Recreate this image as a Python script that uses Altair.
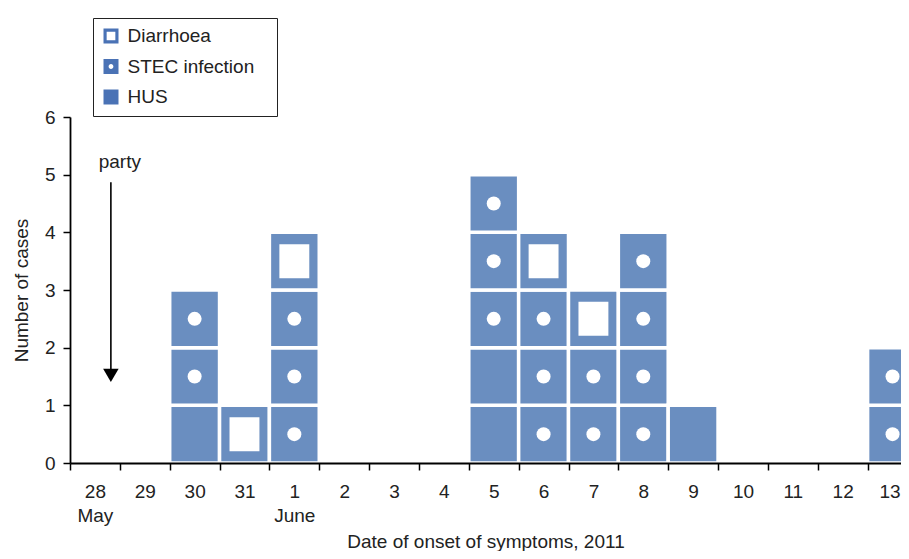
import altair as alt
import pandas as pd

# ---- data -------------------------------------------------------------
day_labels = ["28", "29", "30", "31", "1", "2", "3", "4", "5", "6", "7", "8",
              "9", "10", "11", "12", "13"]
month_labels = ["May", "", "", "", "June", "", "", "", "", "", "", "", "",
                "", "", "", ""]

# each case: index of onset day (0 = 28 May) and case type, stacked bottom-up
case_day = [2, 2, 2,
            3,
            4, 4, 4, 4,
            8, 8, 8, 8, 8,
            9, 9, 9, 9,
            10, 10, 10,
            11, 11, 11, 11,
            12,
            16, 16]
case_type = ["HUS", "STEC infection", "STEC infection",
             "Diarrhoea",
             "STEC infection", "STEC infection", "STEC infection", "Diarrhoea",
             "HUS", "HUS", "STEC infection", "STEC infection", "STEC infection",
             "STEC infection", "STEC infection", "STEC infection", "Diarrhoea",
             "STEC infection", "STEC infection", "Diarrhoea",
             "STEC infection", "STEC infection", "STEC infection", "STEC infection",
             "HUS",
             "STEC infection", "STEC infection"]

type_order = ["Diarrhoea", "STEC infection", "HUS"]

annot_text = ["party"]
annot_text_x = [1.0]
annot_text_y = [5.12]
arrow_x = [0.82]
arrow_top = [4.87]
arrow_head_y = [1.52]

# ---- styling ----------------------------------------------------------
CELL = "#6a8ec0"
LEG = "#4a72b5"
FONT = "Liberation Sans"
FS = 19
W, H = 831, 346
COL_W = 49.85
XMAX = W / COL_W

df = pd.DataFrame({"day": case_day, "type": case_type})
df["level"] = df.groupby("day").cumcount()
df["x0"] = df["day"]
df["x1"] = df["day"] + 1
df["y0"] = df["level"]
df["y1"] = df["level"] + 1
df["xc"] = df["day"] + 0.5
df["yc"] = df["level"] + 0.5

xscale = alt.Scale(domain=[0, XMAX], nice=False, zero=False)
yscale = alt.Scale(domain=[0, 6], nice=False)

label_expr = "''"
for i in range(len(day_labels) - 1, -1, -1):
    d, m = day_labels[i], month_labels[i]
    item = f"['{d}','{m}']" if m else f"'{d}'"
    label_expr = f"datum.value == {i + 0.5} ? {item} : ({label_expr})"
tick_values = [i * 0.5 for i in range(0, 35)]
last_label = len(day_labels) - 0.5

xaxis = alt.Axis(
    values=tick_values, labelExpr=label_expr,
    tickOpacity=alt.condition("datum.value % 1 == 0", alt.value(1), alt.value(0)),
    labelOffset=alt.condition(f"datum.value == {last_label}", alt.value(-3), alt.value(0)),
    tickSize=7, tickWidth=1.5, tickColor="black",
    domainColor="black", domainWidth=1.8,
    labelFont=FONT, labelFontSize=FS, labelColor="#222", labelPadding=12,
    labelLineHeight=24, labelAngle=0, labelOverlap=False, labelFlush=False,
    grid=False, zindex=1,
    title="Date of onset of symptoms, 2011", titleFont=FONT, titleFontSize=FS,
    titleFontWeight="normal", titleColor="#222", titleY=84,
    titleBaseline="alphabetic",
)
yaxis = alt.Axis(
    values=[0, 1, 2, 3, 4, 5, 6], format="d", tickSize=7, tickWidth=1.5,
    tickColor="black", domainColor="black", domainWidth=1.8,
    labelFont=FONT, labelFontSize=FS, labelColor="#222", labelPadding=8,
    grid=False, zindex=1,
    title="Number of cases", titleFont=FONT, titleFontSize=FS,
    titleFontWeight="normal", titleColor="#222", titleX=-43, titleY=H / 2,
    titleAngle=-90, titleBaseline="alphabetic", titleAlign="center",
)


def X(field):
    return alt.X(field, scale=xscale, axis=xaxis)


def Y(field):
    return alt.Y(field, scale=yscale, axis=yaxis)


base = alt.Chart(df)

cells = base.mark_rect(color=CELL, stroke="white", strokeWidth=3.5, clip=True).encode(
    x=X("x0:Q"), x2="x1:Q", y=Y("y0:Q"), y2="y1:Q",
)

inner_sq = base.transform_filter(alt.datum.type == "Diarrhoea").mark_point(
    shape="M-0.88,-1H0.88V1H-0.88Z", filled=True, color="white", opacity=1,
    size=1156, clip=True,
).encode(x=X("xc:Q"), y=Y("yc:Q"))

dots = base.transform_filter(alt.datum.type == "STEC infection").mark_circle(
    color="white", opacity=1, size=196, clip=True,
).encode(x=X("xc:Q"), y=Y("yc:Q"))

paths = [
    "M-1,-1H1V1H-1Z M-0.58,-0.58V0.58H0.58V-0.58Z",
    "M-1,-1H1V1H-1Z M-0.32,0A0.32,0.32 0 1,0 0.32,0A0.32,0.32 0 1,0 -0.32,0Z",
    "M-1,-1H1V1H-1Z",
]
legend_layer = base.mark_point(filled=True, opacity=0, color=LEG, clip=True).encode(
    x=X("xc:Q"),
    y=Y("yc:Q"),
    shape=alt.Shape(
        "type:N",
        scale=alt.Scale(domain=type_order, range=paths),
        legend=alt.Legend(
            title=None, orient="none", legendX=23, legendY=-99,
            symbolSize=225, symbolFillColor=LEG, symbolStrokeWidth=0,
            symbolOpacity=1,
            labelFont=FONT, labelFontSize=FS, labelColor="#222", labelOffset=7,
            labelLimit=400,
            labelExpr="datum.label + '\u2800'",
            rowPadding=10.5, padding=8.5, strokeColor="#222", fillColor="white",
        ),
    ),
)

annot_df = pd.DataFrame({"label": annot_text, "x": annot_text_x, "y": annot_text_y})
party = alt.Chart(annot_df).mark_text(
    font=FONT, fontSize=FS, color="#222", align="center", baseline="alphabetic"
).encode(x=X("x:Q"), y=Y("y:Q"), text="label:N")

arrow_df = pd.DataFrame({"x": arrow_x, "top": arrow_top, "head": arrow_head_y})
arrow_line = alt.Chart(arrow_df).mark_rule(color="black", strokeWidth=1.6).encode(
    x=X("x:Q"), y=Y("top:Q"), y2="head:Q"
)
arrow_head = alt.Chart(arrow_df).mark_point(
    shape="triangle-down", filled=True, color="black", opacity=1, size=240
).encode(x=X("x:Q"), y=Y("head:Q"))

chart = alt.layer(
    cells, inner_sq, dots, legend_layer, party, arrow_line, arrow_head
).properties(
    width=W, height=H, background="white",
    autosize=alt.AutoSizeParams(type="none"),
    padding={"left": 62, "top": 109, "right": 0, "bottom": 88},
).configure_view(strokeWidth=0, stroke="transparent").configure_axis(grid=False)

chart.save("out.html", embed_options={"renderer": "svg", "actions": False})
